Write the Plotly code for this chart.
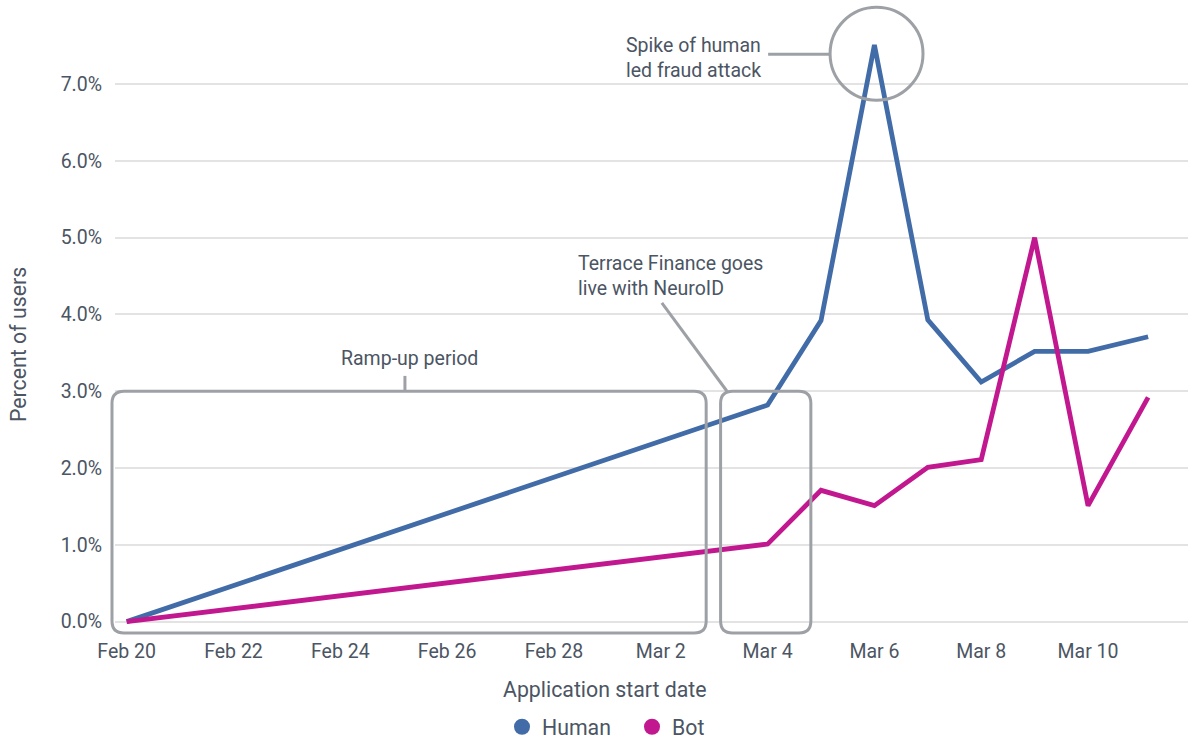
import pandas as pd
import plotly.graph_objects as go

# ---- data ----
dates = ["2023-02-20", "2023-03-04", "2023-03-05", "2023-03-06", "2023-03-07",
         "2023-03-08", "2023-03-09", "2023-03-10", "2023-03-11 03:00"]
human = [0.0, 2.82, 3.92, 7.51, 3.93, 3.12, 3.52, 3.52, 3.71]
bot = [0.0, 1.01, 1.71, 1.51, 2.01, 2.11, 5.0, 1.51, 2.92]
series_names = ["Human", "Bot"]
y_ticks = [0, 1, 2, 3, 4, 5, 6, 7]
y_tick_labels = ["0.0%", "1.0%", "2.0%", "3.0%", "4.0%", "5.0%", "6.0%", "7.0%"]

BLUE = "#426ca8"
MAGENTA = "#c2188f"
GRAY = "#9da1a6"
TEXT = "#4b5563"
FONT = "Roboto"
FS = 19.5
FT = 21.3

X_RANGE = ["2023-02-19 18:45", "2023-03-11 20:55"]
Y_RANGE = [-0.148, 8.095]

base = pd.Timestamp("2023-02-20")
xr0, xr1 = pd.Timestamp(X_RANGE[0]), pd.Timestamp(X_RANGE[1])


def dx(days):
    """date offset from Feb 20, in days"""
    return base + pd.Timedelta(days=days)


def fx(days):
    """date offset -> paper fraction along the x axis"""
    return (dx(days) - xr0) / (xr1 - xr0)


def fy(v):
    return (v - Y_RANGE[0]) / (Y_RANGE[1] - Y_RANGE[0])


def rounded_rect(x0, x1, y0, y1, rx, ry):
    return (f"M{x0 + rx},{y1} L{x1 - rx},{y1} Q{x1},{y1} {x1},{y1 - ry} "
            f"L{x1},{y0 + ry} Q{x1},{y0} {x1 - rx},{y0} "
            f"L{x0 + rx},{y0} Q{x0},{y0} {x0},{y0 + ry} "
            f"L{x0},{y1 - ry} Q{x0},{y1} {x0 + rx},{y1} Z")


fig = go.Figure()
fig.add_trace(go.Scatter(x=dates, y=human, mode="lines", name=series_names[0],
                         line=dict(color=BLUE, width=4.8), showlegend=False))
fig.add_trace(go.Scatter(x=dates, y=bot, mode="lines", name=series_names[1],
                         line=dict(color=MAGENTA, width=4.8), showlegend=False))
# legend entries as circles
fig.add_trace(go.Scatter(x=[None], y=[None], mode="markers", name=series_names[0],
                         marker=dict(color=BLUE, size=19)))
fig.add_trace(go.Scatter(x=[None], y=[None], mode="markers", name=series_names[1],
                         marker=dict(color=MAGENTA, size=19)))

L, R, T, B = 115, 0, 0, 102
W, H = 1188, 735
pw, ph = W - L - R, H - T - B

rx, ry = 12 / pw, 12 / ph
shape_line = dict(color=GRAY, width=3)
shapes = [
    dict(type="path", xref="paper", yref="paper",
         path=rounded_rect(fx(-0.275), fx(10.85), fy(-0.148), fy(3.0), rx, ry), line=shape_line),
    dict(type="path", xref="paper", yref="paper",
         path=rounded_rect(fx(11.12), fx(12.81), fy(-0.148), fy(3.0), rx, ry), line=shape_line),
    dict(type="line", xref="x", yref="y", x0=dx(5.21), x1=dx(5.21), y0=3.0, y1=3.2,
         line=shape_line),
    dict(type="line", xref="x", yref="y", x0=dx(10.02), x1=dx(11.24), y0=4.15, y1=3.0,
         line=shape_line),
    dict(type="line", xref="x", yref="y", x0=dx(12.01), x1=dx(13.17), y0=7.39, y1=7.39,
         line=shape_line),
    dict(type="circle", xref="x", yref="y", x0=dx(13.17), x1=dx(14.91), y0=6.79, y1=8.0,
         line=shape_line),
]

annotations = [
    dict(x=dx(5.29), y=3.43, xref="x", yref="y", text="Ramp-up period", showarrow=False,
         xanchor="center", yanchor="middle", font=dict(size=FS, color=TEXT, family=FONT)),
    dict(x=dx(8.41), y=4.50, xref="x", yref="y", text="Terrace Finance goes<br>live with NeuroID",
         showarrow=False, xanchor="left", yanchor="middle", align="left",
         font=dict(size=FS, color=TEXT, family=FONT)),
    dict(x=dx(9.31), y=7.34, xref="x", yref="y", text="Spike of human<br>led fraud attack",
         showarrow=False, xanchor="left", yanchor="middle", align="left",
         font=dict(size=FS, color=TEXT, family=FONT)),
    dict(x=605, y=689, xref="paper", yref="paper", text="Application start date", showarrow=False,
         xanchor="center", yanchor="middle", font=dict(size=FT, color=TEXT, family=FONT)),
    dict(x=18, y=345, xref="paper", yref="paper", text="Percent of users", showarrow=False,
         xanchor="center", yanchor="middle",
         textangle=-90, font=dict(size=FT, color=TEXT, family=FONT)),
]
# convert pixel-placed titles to paper coords
for a in annotations[3:]:
    px, py = a["x"], a["y"]
    a["x"] = (px - L) / pw
    a["y"] = (H - B - py) / ph

fig.update_layout(
    width=W, height=H,
    margin=dict(l=L, r=R, t=T, b=B, autoexpand=False),
    paper_bgcolor="white", plot_bgcolor="white",
    font=dict(family=FONT, size=FS, color=TEXT),
    shapes=shapes,
    annotations=annotations,
    showlegend=True,
    legend=dict(orientation="h", x=(502 - L) / pw, xanchor="left", y=-0.116, yanchor="top",
                font=dict(size=FT, color=TEXT, family=FONT), itemsizing="trace",
                entrywidth=85, entrywidthmode="pixels"),
    xaxis=dict(type="date", range=X_RANGE,
               tick0="2023-02-20", dtick=2 * 86400000, tickformat="%b %-d",
               showgrid=False, zeroline=False, showline=False, ticks="",
               ticklabelstandoff=4,
               tickfont=dict(size=FS, color=TEXT, family=FONT)),
    yaxis=dict(range=Y_RANGE, tickvals=y_ticks, ticktext=y_tick_labels,
               showgrid=True, gridcolor="#e3e3e3", gridwidth=1.5, zeroline=False,
               showline=False, ticks="", ticklabelstandoff=12,
               tickfont=dict(size=FS, color=TEXT, family=FONT)),
)

fig.write_html("out.html")
